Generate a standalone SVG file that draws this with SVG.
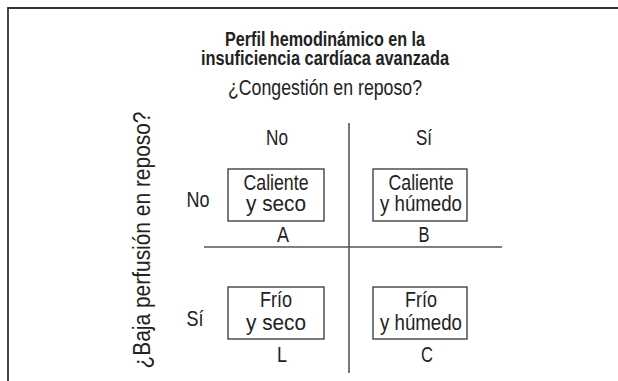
<svg xmlns="http://www.w3.org/2000/svg" width="618" height="381" viewBox="0 0 618 381">
<style>
text{font-family:"Liberation Sans Narrow","Liberation Sans",Arial,sans-serif;fill:#222;text-anchor:middle}
.t{font-size:20px;font-weight:bold}
.b{font-size:22px}
.v{font-size:23px}
.box{fill:#fff;stroke:#333;stroke-width:1.3}
.ln{stroke:#555;stroke-width:1.6;fill:none}
.fr{stroke:#333;stroke-width:1.8;fill:none}
</style>
<rect width="618" height="381" fill="#fff"/>
<path class="fr" d="M8 381V8H618"/>
<g id="title">
<text class="t" x="325" y="46" textLength="200" lengthAdjust="spacingAndGlyphs">Perfil hemodinámico en la</text>
<text class="t" x="325" y="65" textLength="248" lengthAdjust="spacingAndGlyphs">insuficiencia cardíaca avanzada</text>
</g>
<g id="axis-x"><text class="b" x="325" y="95" textLength="194" lengthAdjust="spacingAndGlyphs">¿Congestión en reposo?</text></g>
<g id="axis-y"><text class="v" transform="translate(150 240) rotate(-90)" x="0" y="0" textLength="257" lengthAdjust="spacingAndGlyphs">¿Baja perfusión en reposo?</text></g>
<g id="connectors">
<line class="ln" x1="349" y1="123" x2="349" y2="373"/>
<line class="ln" x1="204" y1="247" x2="502" y2="247"/>
</g>
<g id="col-no"><text class="b" x="277" y="145" textLength="22" lengthAdjust="spacingAndGlyphs">No</text></g>
<g id="col-si"><text class="b" x="424" y="145" textLength="16" lengthAdjust="spacingAndGlyphs">Sí</text></g>
<g id="row-no"><text class="b" x="198" y="207" textLength="23" lengthAdjust="spacingAndGlyphs">No</text></g>
<g id="row-si"><text class="b" x="195" y="326" textLength="17" lengthAdjust="spacingAndGlyphs">Sí</text></g>
<g id="A">
<rect class="box" x="228" y="169" width="96" height="52"/>
<text class="b" x="276" y="190" textLength="65" lengthAdjust="spacingAndGlyphs">Caliente</text>
<text class="b" x="276" y="211" textLength="60" lengthAdjust="spacingAndGlyphs">y seco</text>
<text class="b" x="283" y="242" textLength="12" lengthAdjust="spacingAndGlyphs">A</text>
</g>
<g id="B">
<rect class="box" x="373" y="169" width="94" height="52"/>
<text class="b" x="421" y="190" textLength="65" lengthAdjust="spacingAndGlyphs">Caliente</text>
<text class="b" x="421" y="211" textLength="82" lengthAdjust="spacingAndGlyphs">y húmedo</text>
<text class="b" x="424" y="242" textLength="11" lengthAdjust="spacingAndGlyphs">B</text>
</g>
<g id="L">
<rect class="box" x="228" y="287" width="96" height="52"/>
<text class="b" x="276" y="307" textLength="32" lengthAdjust="spacingAndGlyphs">Frío</text>
<text class="b" x="276" y="330" textLength="60" lengthAdjust="spacingAndGlyphs">y seco</text>
<text class="b" x="282" y="362" textLength="10" lengthAdjust="spacingAndGlyphs">L</text>
</g>
<g id="C">
<rect class="box" x="373" y="287" width="94" height="52"/>
<text class="b" x="421" y="307" textLength="32" lengthAdjust="spacingAndGlyphs">Frío</text>
<text class="b" x="421" y="330" textLength="82" lengthAdjust="spacingAndGlyphs">y húmedo</text>
<text class="b" x="427" y="362" textLength="12" lengthAdjust="spacingAndGlyphs">C</text>
</g>
</svg>
